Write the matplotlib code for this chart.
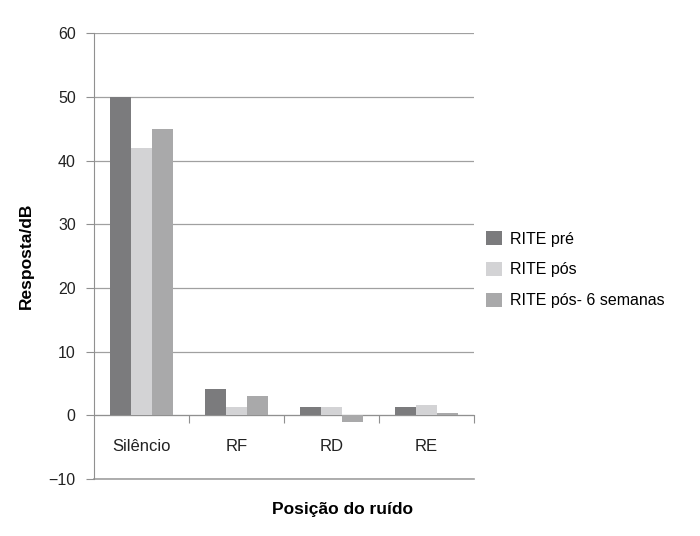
import numpy as np
from matplotlib import pyplot as plt

plt.rcParams["font.family"] = ["Liberation Sans", "DejaVu Sans"]

categories = ["Silêncio", "RF", "RD", "RE"]
series_names = ["RITE pré", "RITE pós", "RITE pós- 6 semanas"]
rite_pre = [50, 4.1, 1.3, 1.3]
rite_pos = [42, 1.3, 1.3, 1.7]
rite_pos6 = [45, 3.0, -1.0, 0.35]
colors = ["#7b7b7d", "#d3d3d5", "#a9a9aa"]

fig = plt.figure(figsize=(7, 5.36), dpi=100)
ax = fig.add_axes([0.134, 0.106, 0.543, 0.832])

x = np.arange(len(categories))
w = 0.22
for i, (vals, name) in enumerate(zip([rite_pre, rite_pos, rite_pos6], series_names)):
    ax.bar(x + (i - 1) * w, vals, width=w, color=colors[i], label=name, zorder=3)

ax.set_xlim(-0.5, len(categories) - 0.5)
ax.set_ylim(-10, 60)
ax.set_yticks(range(-10, 61, 10))
ax.set_yticklabels(["\u221210"] + [str(v) for v in range(0, 61, 10)])
ax.yaxis.grid(True, color="#a0a0a0", linewidth=0.9, zorder=0)
ax.axhline(-10, color="#a0a0a0", linewidth=1.2, clip_on=False, zorder=0)

for s in ["top", "right"]:
    ax.spines[s].set_visible(False)
ax.spines["left"].set_color("#909090")
ax.spines["bottom"].set_position(("data", 0))
ax.spines["bottom"].set_color("#909090")

# category ticks sit between groups, labels centred under groups
ax.set_xticks(np.arange(0.5, len(categories) - 0.5 + 1, 1))
ax.set_xticklabels([])
ax.set_xticks(x, minor=True)
ax.set_xticklabels(categories, minor=True, fontsize=12, color="#222222")
ax.tick_params(axis="x", which="minor", length=0, pad=17)
ax.tick_params(axis="x", which="major", length=6, color="#909090", direction="out")
ax.tick_params(axis="y", length=6, color="#909090", labelsize=11.5, labelcolor="#222222", pad=7)

ax.set_ylabel("Resposta/dB", fontsize=12.5, fontweight="bold")
ax.yaxis.set_label_coords(-0.158, 0.5)
fig.text(0.489, 0.049, "Posição do ruído", fontsize=12.5, fontweight="bold", ha="center", va="center")

ax.legend(loc="center left", bbox_to_anchor=(0.995, 0.47), frameon=False, fontsize=11.5,
          handlelength=0.95, handleheight=1.0, handletextpad=0.55, labelspacing=0.95)

fig.savefig("out.png", dpi=100)
